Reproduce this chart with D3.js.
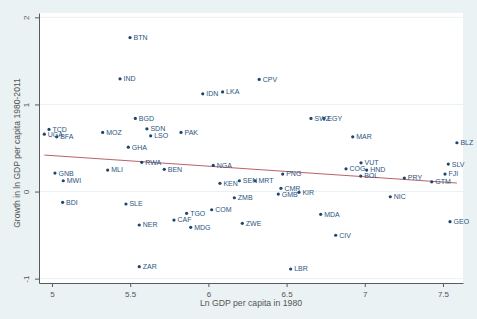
<!DOCTYPE html>
<html>
<head>
<meta charset="utf-8">
<script src="https://cdn.jsdelivr.net/npm/d3@7"></script>
<style>
  html, body { margin: 0; padding: 0; background: #eaf2f3; }
  svg { display: block; font-family: "Liberation Sans", Arial, sans-serif; }
</style>
</head>
<body>
<div id="scatter"></div>
<script>
// Country codes, ln GDP per capita in 1980, growth 1980-2011
const countries = ['BTN','IND','BGD','TCD','BFA','UGA','MOZ','SDN','LSO','GHA',
  'IDN','LKA','CPV','PAK','SWZ','EGY','MAR','BLZ','RWA','GNB',
  'MWI','MLI','BDI','SLE','NER','ZAR','NGA','BEN','PNG','KEN',
  'SEN','MRT','CMR','GMB','KIR','ZMB','TGO','COM','CAF','MDG',
  'ZWE','LBR','VUT','COG','HND','BOL','PRY','GTM','SLV','FJI',
  'NIC','MDA','GEO','CIV'];
const lnGdp1980 = [5.499,5.435,5.533,4.981,5.030,4.951,5.324,5.607,5.631,5.488,
  5.964,6.091,6.325,5.825,6.656,6.739,6.923,7.589,5.574,5.019,
  5.072,5.356,5.068,5.473,5.558,5.558,6.031,5.718,6.475,6.074,
  6.198,6.298,6.464,6.447,6.579,6.166,5.861,6.021,5.780,5.887,
  6.217,6.526,6.976,6.880,7.012,6.974,7.253,7.428,7.534,7.513,
  7.163,6.718,7.545,6.814];
const growth = [1.768,1.294,0.839,0.713,0.628,0.659,0.679,0.720,0.640,0.510,
  1.122,1.144,1.287,0.679,0.839,0.839,0.628,0.560,0.335,0.212,
  0.124,0.247,-0.124,-0.143,-0.384,-0.862,0.300,0.255,0.201,0.094,
  0.124,0.124,0.037,-0.029,-0.009,-0.071,-0.250,-0.209,-0.327,-0.411,
  -0.365,-0.889,0.330,0.261,0.247,0.178,0.155,0.112,0.315,0.201,
  -0.060,-0.261,-0.346,-0.502];

// Linear fit end points
const fitX = [4.951, 7.589];
const fitY = [0.419, 0.098];

// Axis ticks
const xTicks = [5, 5.5, 6, 6.5, 7, 7.5];
const yTicks = [-1, 0, 1, 2];

(function() {
  const width = 477, height = 319;
  const plot = { left: 39, right: 463, top: 13, bottom: 283 };

  const svg = d3.select('#scatter').append('svg')
    .attr('width', width)
    .attr('height', height);

  // 1) Graph region + white plot region
  svg.append('rect')
    .attr('width', width).attr('height', height)
    .attr('fill', '#eaf2f3');
  svg.append('rect')
    .attr('x', plot.left).attr('y', plot.top)
    .attr('width', plot.right - plot.left)
    .attr('height', plot.bottom - plot.top)
    .attr('fill', '#ffffff');

  // 2) Scales
  const xScale = d3.scaleLinear()
    .domain([4.917, 7.628])
    .range([plot.left, plot.right]);
  const yScale = d3.scaleLinear()
    .domain([-1.05, 2.05])
    .range([plot.bottom, plot.top]);

  // 3) Grid lines at y ticks
  svg.append('g')
    .selectAll('line')
    .data(yTicks)
    .join('line')
    .attr('x1', plot.left).attr('x2', plot.right)
    .attr('y1', d => yScale(d)).attr('y2', d => yScale(d))
    .attr('stroke', '#eaf2f3')
    .attr('stroke-width', 1);

  // 4) Axes (plain hyphen minus, no trailing decimals)
  const plainFormat = d => String(d);

  const xAxis = svg.append('g')
    .attr('transform', `translate(0,${plot.bottom})`)
    .call(d3.axisBottom(xScale).tickValues(xTicks).tickSize(4).tickPadding(4)
      .tickFormat(plainFormat).tickSizeOuter(0));
  xAxis.select('.domain').attr('stroke', '#5a5a5a');
  xAxis.selectAll('.tick line').attr('stroke', '#5a5a5a');
  xAxis.selectAll('text').attr('font-size', '8px').attr('fill', '#555');

  const yAxis = svg.append('g')
    .attr('transform', `translate(${plot.left},0)`)
    .call(d3.axisLeft(yScale).tickValues(yTicks).tickSize(4)
      .tickFormat(plainFormat).tickSizeOuter(0));
  yAxis.select('.domain').attr('stroke', '#5a5a5a');
  yAxis.selectAll('.tick line').attr('stroke', '#5a5a5a');
  yAxis.selectAll('text')
    .attr('x', null).attr('dy', null)
    .attr('text-anchor', 'middle')
    .attr('transform', 'translate(-10,0) rotate(-90)')
    .attr('font-size', '8px')
    .attr('fill', '#555');

  // 5) Axis titles
  svg.append('text')
    .text('Ln GDP per capita in 1980')
    .attr('x', (plot.left + plot.right) / 2)
    .attr('y', 306)
    .attr('text-anchor', 'middle')
    .attr('font-size', '8.7px')
    .attr('fill', '#555');

  svg.append('text')
    .text('Growth in ln GDP per capita 1980-2011')
    .attr('transform', 'translate(20,153) rotate(-90)')
    .attr('text-anchor', 'middle')
    .attr('font-size', '8.6px')
    .attr('fill', '#555');

  // 6) Fitted line
  const fitData = fitX.map((x, i) => ({ x, y: fitY[i] }));
  svg.append('path')
    .datum(fitData)
    .attr('d', d3.line().x(d => xScale(d.x)).y(d => yScale(d.y)))
    .attr('fill', 'none')
    .attr('stroke', '#b05058')
    .attr('stroke-width', 0.9);

  // 7) Points with country labels at 3 o'clock
  const points = countries.map((c, i) => ({ c, x: lnGdp1980[i], y: growth[i] }));
  const g = svg.append('g');
  g.selectAll('circle')
    .data(points)
    .join('circle')
    .attr('cx', d => xScale(d.x))
    .attr('cy', d => yScale(d.y))
    .attr('r', 1.6)
    .attr('fill', '#1a476f');
  g.selectAll('text')
    .data(points)
    .join('text')
    .text(d => d.c)
    .attr('x', d => xScale(d.x) + 3.5)
    .attr('y', d => yScale(d.y))
    .attr('dy', '0.35em')
    .attr('font-size', '7px')
    .attr('fill', '#2a5580');
})();
</script>
</body>
</html>
